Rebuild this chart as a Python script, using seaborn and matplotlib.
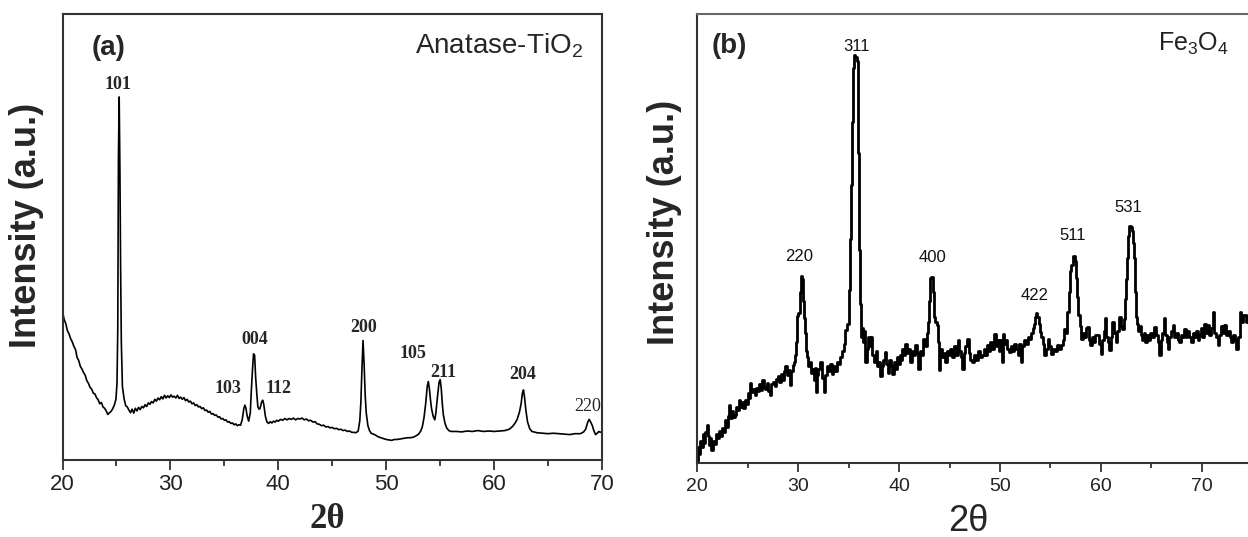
import matplotlib
matplotlib.use("Agg")
import matplotlib.pyplot as plt
from matplotlib.ticker import MultipleLocator
from matplotlib import font_manager as fm
import seaborn as sns
import pandas as pd

# ---------------- data: panel (a) Anatase-TiO2 ----------------
two_theta_a = [
    20.0, 20.15, 20.3, 20.45, 20.6, 20.75, 20.9, 21.05, 21.2, 21.35, 21.5, 21.65, 21.8, 21.95,
    22.1, 22.25, 22.4, 22.55, 22.7, 22.85, 23.0, 23.15, 23.3, 23.45, 23.6, 23.75, 23.9, 24.05,
    24.2, 24.35, 24.5, 24.65, 24.8, 24.95, 25.05, 25.12, 25.18, 25.25, 25.32, 25.38, 25.45,
    25.55, 25.7, 25.85, 26.0, 26.15, 26.3, 26.45, 26.6, 26.75, 26.9, 27.05, 27.2, 27.35, 27.5,
    27.65, 27.8, 27.95, 28.1, 28.25, 28.4, 28.55, 28.7, 28.85, 29.0, 29.15, 29.3, 29.45, 29.6,
    29.75, 29.9, 30.05, 30.2, 30.35, 30.5, 30.65, 30.8, 30.95, 31.1, 31.25, 31.4, 31.55, 31.7,
    31.85, 32.0, 32.15, 32.3, 32.45, 32.6, 32.75, 32.9, 33.05, 33.2, 33.35, 33.5, 33.65, 33.8,
    33.95, 34.1, 34.25, 34.4, 34.55, 34.7, 34.85, 35.0, 35.15, 35.3, 35.45, 35.6, 35.75, 35.9,
    36.05, 36.2, 36.35, 36.5, 36.65, 36.8, 36.9, 37.0, 37.1, 37.25, 37.4, 37.5, 37.6, 37.7,
    37.8, 37.9, 38.0, 38.1, 38.2, 38.3, 38.45, 38.55, 38.65, 38.8, 38.95, 39.1, 39.25, 39.4,
    39.55, 39.7, 39.85, 40.0, 40.2, 40.4, 40.6, 40.8, 41.0, 41.2, 41.4, 41.6, 41.8, 42.0, 42.2,
    42.4, 42.6, 42.8, 43.0, 43.2, 43.4, 43.6, 43.8, 44.0, 44.2, 44.4, 44.6, 44.8, 45.0, 45.2,
    45.4, 45.6, 45.8, 46.0, 46.2, 46.4, 46.6, 46.8, 47.0, 47.2, 47.4, 47.55, 47.65, 47.75,
    47.85, 47.95, 48.05, 48.15, 48.3, 48.45, 48.6, 48.8, 49.0, 49.25, 49.5, 49.75, 50.0,
    50.25, 50.5, 50.75, 51.0, 51.25, 51.5, 51.75, 52.0, 52.25, 52.5, 52.75, 53.0, 53.2, 53.35,
    53.5, 53.65, 53.8, 53.9, 54.0, 54.1, 54.2, 54.35, 54.5, 54.6, 54.75, 54.9, 55.0, 55.1,
    55.2, 55.3, 55.45, 55.6, 55.8, 56.0, 56.5, 57.0, 57.5, 58.0, 58.5, 59.0, 59.5, 60.0, 60.5,
    61.0, 61.4, 61.7, 61.95, 62.15, 62.35, 62.5, 62.62, 62.72, 62.82, 62.95, 63.1, 63.3, 63.5,
    64.0, 64.5, 65.0, 65.5, 66.0, 66.5, 67.0, 67.5, 68.0, 68.3, 68.5, 68.65, 68.8, 68.95, 69.1,
    69.25, 69.4, 69.55, 69.7, 69.85, 70.0,
]
intensity_a = [
    33.3, 31.5, 30.6, 29.0, 28.3, 27.2, 26.5, 25.5, 24.8, 23.0, 22.3, 21.0, 20.4, 19.6,
    19.0, 17.8, 17.2, 16.3, 15.9, 15.0, 14.8, 14.0, 13.5, 12.6, 12.9, 11.9, 11.6, 11.0,
    10.2, 10.6, 10.9, 11.5, 12.3, 13.6, 17.2, 29.5, 67.4, 81.4, 64.8, 44.0, 26.4,
    16.5, 13.8, 12.2, 11.9, 11.2, 10.6, 11.4, 10.5, 11.6, 11.0, 11.8, 11.3, 12.0, 11.7,
    12.4, 12.0, 12.8, 12.5, 13.1, 12.8, 13.6, 13.2, 13.9, 13.5, 14.2, 13.7, 14.5, 13.9,
    14.4, 14.0, 14.6, 14.1, 14.3, 13.9, 14.5, 13.8, 14.1, 13.6, 14.0, 13.3, 13.6, 13.0,
    13.2, 12.6, 12.8, 12.2, 12.4, 11.9, 12.0, 11.5, 11.7, 11.1, 11.2, 10.7, 10.9, 10.3,
    10.4, 10.0, 10.1, 9.6, 9.7, 9.2, 9.3, 8.9, 9.0, 8.5, 8.6, 8.2, 8.3, 7.9,
    8.1, 7.7, 7.9, 7.8, 9.0, 11.5, 12.3, 11.6, 10.0, 8.7, 10.5, 15.7, 20.0, 23.8,
    23.5, 18.5, 15.0, 12.0, 11.4, 11.5, 13.0, 13.4, 12.5, 9.8, 8.5, 8.2, 8.6, 8.3,
    8.7, 8.5, 8.9, 8.7, 9.1, 8.9, 9.3, 9.0, 9.3, 9.1, 9.4, 9.0, 9.3, 9.2, 9.4,
    9.0, 9.2, 8.8, 8.9, 8.5, 8.6, 8.1, 8.0, 7.7, 7.8, 7.4, 7.5, 7.2, 7.3, 7.0,
    7.1, 6.8, 6.9, 6.6, 6.7, 6.4, 6.5, 6.2, 6.2, 6.1, 6.5, 8.8, 13.0, 20.5,
    26.8, 21.5, 14.5, 10.5, 7.7, 6.6, 6.0, 5.8, 5.6, 5.2, 5.0, 4.8, 4.6,
    4.5, 4.4, 4.6, 4.6, 4.7, 4.8, 4.9, 5.0, 5.0, 5.1, 5.4, 5.8, 6.5, 7.5,
    9.5, 12.5, 16.5, 17.6, 16.0, 13.5, 11.5, 9.8, 9.0, 10.5, 14.2, 17.5, 18.0, 16.0,
    12.5, 10.0, 8.2, 7.2, 6.6, 6.4, 6.4, 6.3, 6.5, 6.4, 6.6, 6.4, 6.5, 6.4, 6.5,
    6.6, 6.9, 7.5, 8.3, 9.2, 10.8, 12.6, 15.0, 15.7, 14.0, 11.0, 8.5, 7.0, 6.4,
    6.1, 6.0, 5.9, 6.0, 5.9, 5.8, 5.7, 5.9, 5.9, 6.3, 7.0, 8.3, 9.1, 8.5, 7.7,
    6.5, 5.7, 6.0, 6.4, 6.2, 6.4,
]
peak_labels_a = ["101", "004", "103", "112", "200", "105", "211", "204", "220"]
peak_label_x_a = [25.1, 37.8, 35.3, 40.0, 47.9, 52.45, 55.3, 62.6, 68.7]
peak_label_y_a = [84.3, 27.1, 16.1, 16.1, 29.8, 23.8, 19.7, 19.1, 11.9]

# ---------------- data: panel (b) Fe3O4 ----------------
two_theta_b = [
    20.0, 20.1, 20.2, 20.35, 20.5, 20.6, 20.75, 20.9, 21.0, 21.1, 21.2, 21.35, 21.5, 21.65,
    21.8, 21.95, 22.1, 22.25, 22.4, 22.5, 22.65, 22.8, 22.95, 23.1, 23.2, 23.35, 23.5, 23.65,
    23.8, 23.95, 24.1, 24.2, 24.35, 24.5, 24.65, 24.8, 24.95, 25.1, 25.2, 25.3, 25.45, 25.6,
    25.8, 25.95, 26.1, 26.25, 26.4, 26.55, 26.7, 26.85, 27.0, 27.15, 27.3, 27.45, 27.6, 27.75,
    27.9, 28.05, 28.2, 28.35, 28.5, 28.65, 28.8, 28.95, 29.1, 29.25, 29.4, 29.55, 29.7, 29.8,
    29.9, 29.96, 30.1, 30.2, 30.3, 30.4, 30.5, 30.6, 30.7, 30.8, 30.95, 31.1, 31.2, 31.35,
    31.5, 31.6, 31.7, 31.8, 31.95, 32.1, 32.3, 32.45, 32.6, 32.75, 32.9, 33.1, 33.25, 33.4,
    33.6, 33.8, 33.95, 34.1, 34.3, 34.45, 34.6, 34.8, 34.95, 35.1, 35.2, 35.3, 35.4, 35.5,
    35.6, 35.75, 35.85, 35.95, 36.05, 36.15, 36.25, 36.4, 36.5, 36.6, 36.75, 36.9, 37.05,
    37.2, 37.3, 37.45, 37.6, 37.75, 37.9, 38.05, 38.2, 38.35, 38.5, 38.65, 38.8, 38.95, 39.1,
    39.25, 39.4, 39.55, 39.7, 39.85, 40.0, 40.1, 40.25, 40.4, 40.55, 40.7, 40.85, 41.0, 41.2,
    41.35, 41.5, 41.7, 41.85, 42.0, 42.15, 42.3, 42.5, 42.65, 42.8, 42.9, 43.0, 43.1, 43.25,
    43.4, 43.5, 43.65, 43.8, 43.9, 44.0, 44.1, 44.2, 44.35, 44.5, 44.7, 44.85, 45.0, 45.15,
    45.3, 45.5, 45.7, 45.9, 46.05, 46.2, 46.35, 46.5, 46.65, 46.85, 47.0, 47.15, 47.3, 47.5,
    47.7, 47.9, 48.1, 48.3, 48.45, 48.6, 48.8, 48.95, 49.1, 49.3, 49.5, 49.65, 49.8, 49.95,
    50.1, 50.2, 50.3, 50.45, 50.6, 50.8, 51.0, 51.15, 51.3, 51.5, 51.65, 51.85, 52.0, 52.1,
    52.3, 52.5, 52.65, 52.8, 53.0, 53.15, 53.3, 53.4, 53.5, 53.6, 53.75, 53.9, 54.0, 54.15,
    54.3, 54.5, 54.65, 54.8, 54.95, 55.1, 55.3, 55.5, 55.75, 55.9, 56.1, 56.3, 56.45, 56.6,
    56.75, 56.9, 57.0, 57.15, 57.35, 57.45, 57.6, 57.7, 57.8, 57.95, 58.1, 58.25, 58.4, 58.55,
    58.7, 58.85, 59.06, 59.2, 59.35, 59.5, 59.7, 59.85, 60.06, 60.2, 60.3, 60.45, 60.6, 60.75,
    60.9, 61.05, 61.2, 61.35, 61.55, 61.7, 61.9, 62.05, 62.2, 62.35, 62.44, 62.55, 62.64,
    62.75, 62.87, 63.0, 63.1, 63.2, 63.3, 63.4, 63.5, 63.6, 63.75, 63.9, 64.0, 64.15, 64.3,
    64.5, 64.65, 64.8, 64.95, 65.1, 65.35, 65.5, 65.7, 65.85, 66.0, 66.15, 66.3, 66.45, 66.6,
    66.7, 66.85, 67.0, 67.2, 67.35, 67.5, 67.65, 67.8, 67.95, 68.1, 68.3, 68.45, 68.6, 68.8,
    69.0, 69.15, 69.3, 69.5, 69.65, 69.8, 69.95, 70.1, 70.3, 70.45, 70.65, 70.8, 70.95, 71.15,
    71.3, 71.5, 71.65, 71.8, 71.95, 72.15, 72.3, 72.5, 72.65, 72.8, 73.0, 73.15, 73.3, 73.5,
    73.65, 73.8, 73.95, 74.1, 74.3, 74.45, 74.6, 74.8, 75.0,
]
intensity_b = [
    0.5, 3.5, 2.0, 5.0, 3.5, 6.5, 4.5, 7.0, 8.5, 6.0, 4.0, 5.5, 2.8, 5.0,
    4.2, 6.5, 5.5, 7.2, 6.0, 7.7, 7.0, 9.5, 8.0, 10.5, 12.9, 10.0, 11.5, 10.2,
    10.7, 12.5, 11.8, 14.1, 12.5, 13.5, 12.2, 14.0, 13.2, 15.5, 14.5, 17.8, 15.8, 16.5,
    15.2, 16.8, 16.0, 17.5, 16.2, 18.5, 17.0, 16.5, 17.8, 16.0, 15.2, 17.5, 18.0, 17.2,
    18.8, 19.3, 18.0, 19.8, 18.5, 20.5, 21.5, 19.5, 20.8, 17.4, 20.5, 21.8, 22.5, 24.1,
    27.0, 32.7, 33.5, 38.0, 41.7, 41.0, 36.0, 32.4, 29.0, 24.9, 23.5, 21.5, 22.6, 20.0,
    21.0, 18.5, 21.2, 15.9, 19.5, 21.0, 22.6, 19.0, 15.9, 19.5, 21.5, 20.6, 22.0, 19.8,
    21.5, 20.6, 22.5, 22.0, 23.6, 25.0, 26.5, 29.6, 31.0, 38.6, 50.0, 62.0, 76.0, 88.0,
    90.8, 90.5, 89.5, 69.0, 47.5, 35.4, 28.1, 30.0, 27.0, 29.5, 22.6, 25.5, 28.0,
    26.0, 28.1, 24.0, 22.5, 25.0, 21.5, 22.5, 19.3, 21.5, 23.0, 24.7, 22.0, 20.0, 23.0,
    21.5, 19.8, 22.5, 21.0, 23.5, 22.0, 24.0, 23.0, 25.5, 24.0, 26.5, 24.5, 25.5, 22.5,
    25.0, 24.0, 26.3, 24.5, 20.9, 25.0, 24.0, 27.6, 26.0, 29.0, 31.5, 36.0, 41.1, 41.5,
    38.0, 32.6, 31.5, 30.8, 27.0, 20.7, 24.0, 25.4, 23.5, 24.5, 22.5, 25.0, 24.0, 25.5,
    23.5, 26.0, 24.0, 27.4, 25.0, 23.5, 20.9, 24.5, 26.0, 27.6, 24.5, 23.0, 22.6, 24.0,
    23.0, 25.0, 23.5, 24.0, 25.5, 24.0, 26.3, 25.0, 27.0, 25.5, 28.8, 26.0, 27.5, 25.0,
    27.5, 22.5, 28.8, 26.5, 27.5, 25.5, 24.7, 26.0, 25.0, 26.5, 25.4, 24.0, 26.5, 22.5,
    26.0, 27.4, 26.5, 28.0, 27.6, 29.0, 30.0, 31.0, 32.5, 33.3, 32.5, 31.0, 29.2, 28.0,
    26.5, 24.0, 25.5, 27.7, 26.0, 24.3, 25.5, 25.0, 26.3, 25.5, 26.3, 27.5, 29.9, 29.0,
    33.7, 38.0, 42.7, 44.0, 46.1, 45.0, 41.1, 37.0, 33.0, 30.5, 27.7, 29.0, 28.0, 30.0,
    30.3, 27.5, 26.3, 28.0, 27.0, 28.5, 28.5, 26.5, 24.3, 27.5, 29.5, 32.2, 28.0, 27.0,
    25.2, 28.0, 31.5, 29.0, 27.0, 29.5, 32.6, 30.5, 29.9, 32.0, 36.6, 41.0, 45.7,
    50.5, 52.8, 52.5, 51.7, 49.0, 45.7, 38.0, 32.6, 31.0, 29.5, 30.5, 28.5, 27.5, 29.0,
    27.0, 28.5, 27.5, 29.0, 28.0, 30.3, 28.5, 27.0, 24.0, 27.5, 29.0, 32.2, 28.5, 27.0,
    25.4, 28.0, 29.5, 30.8, 28.0, 29.0, 27.5, 27.0, 28.5, 28.0, 29.9, 28.0, 29.5, 28.0,
    27.0, 29.0, 28.0, 29.5, 27.5, 28.5, 30.0, 28.0, 31.0, 29.0, 30.8, 28.5, 30.0, 33.7,
    29.0, 28.0, 26.3, 28.5, 30.5, 29.0, 30.8, 28.5, 29.5, 28.0, 27.0, 28.5, 27.5, 25.4,
    28.0, 33.7, 31.5, 33.0, 33.0, 31.5, 33.0, 32.0, 31.5,
]
peak_labels_b = ["220", "311", "400", "422", "511", "531"]
peak_label_x_b = [30.15, 35.8, 43.3, 53.4, 57.2, 62.7]
peak_label_y_b = [46.1, 92.7, 45.8, 37.4, 50.7, 56.9]

x_ticks_a = [20, 30, 40, 50, 60, 70]
x_ticks_b = [20, 30, 40, 50, 60, 70]

# ---------------- styling ----------------
sns.set_theme(style="ticks")
avail = {f.name for f in fm.fontManager.ttflist}
SANS = "Liberation Sans" if "Liberation Sans" in avail else "DejaVu Sans"
SERIF = "Liberation Serif" if "Liberation Serif" in avail else "DejaVu Serif"
TICKF = "Liberation Sans Narrow" if "Liberation Sans Narrow" in avail else SANS
plt.rcParams["font.family"] = [SANS, "DejaVu Sans"]
plt.rcParams["mathtext.fontset"] = "custom"
plt.rcParams["mathtext.rm"] = SANS
plt.rcParams["mathtext.it"] = SANS + ":italic"
plt.rcParams["mathtext.bf"] = SANS + ":bold"

SPINE = "#333333"

fig = plt.figure(figsize=(12.48, 5.37), dpi=100)
axa = fig.add_axes([0.0501, 0.1434, 0.4323, 0.8305])
axb = fig.add_axes([0.5585, 0.1378, 0.4451, 0.8361])

df_a = pd.DataFrame({"two_theta": two_theta_a, "intensity": intensity_a})
df_b = pd.DataFrame({"two_theta": two_theta_b, "intensity": intensity_b})

sns.lineplot(data=df_a, x="two_theta", y="intensity", ax=axa, color="black",
             linewidth=1.2, estimator=None, sort=False)
sns.lineplot(data=df_b, x="two_theta", y="intensity", ax=axb, color="black",
             linewidth=2.0, estimator=None, sort=False, drawstyle="steps-mid")

for ax, xmax, xt, fs, ml, mnl, pad in [
    (axa, 70, x_ticks_a, 16, 7.2, 4.3, 3.0),
    (axb, 75, x_ticks_b, 14, 6.5, 3.6, 4.5),
]:
    ax.set_xlim(20, xmax)
    ax.set_ylim(0, 100)
    ax.set_xticks(xt)
    ax.xaxis.set_minor_locator(MultipleLocator(5))
    ax.set_yticks([])
    ax.tick_params(axis="x", which="major", direction="out", length=ml, width=1.3,
                   color=SPINE, pad=pad, labelsize=fs, labelcolor="#222222")
    ax.tick_params(axis="x", which="minor", direction="out", length=mnl, width=1.3,
                   color=SPINE)
    for lab in ax.get_xticklabels():
        lab.set_family(TICKF)
    for s in ax.spines.values():
        s.set_color(SPINE)
        s.set_linewidth(1.5)
    ax.set_facecolor("white")

axb.spines["top"].set_color("#666666")

# axis labels
axa.set_ylabel("Intensity (a.u.)", fontsize=26, fontweight="bold", family=SANS)
axa.yaxis.set_label_coords(-0.034, 0.527)
axb.set_ylabel("Intensity (a.u.)", fontsize=26, fontweight="bold", family=SANS)
axb.yaxis.set_label_coords(-0.027, 0.535)

axa.set_xlabel("2θ", fontsize=25, fontweight="bold", family=SERIF, va="center")
axa.xaxis.set_label_coords(0.49, -0.1345)
axb.set_xlabel("2θ", fontsize=26, family=SANS, va="center")
axb.xaxis.set_label_coords(0.488, -0.131)

# panel tags and sample names
axa.text(0.086, 0.924, "(a)", transform=axa.transAxes, ha="center", va="center",
         fontsize=20, fontweight="bold", family=SANS)
axa.text(0.965, 0.928, "Anatase-TiO$_2$", transform=axa.transAxes, ha="right",
         va="center", fontsize=20, family=SANS)
axb.text(0.059, 0.929, "(b)", transform=axb.transAxes, ha="center", va="center",
         fontsize=20, fontweight="bold", family=SANS)
axb.text(0.830, 0.933, "Fe$_3$O$_4$", transform=axb.transAxes, ha="left",
         va="center", fontsize=18, family=SANS, color="#222222")

# peak (hkl) labels
for lab, lx, ly in zip(peak_labels_a, peak_label_x_a, peak_label_y_a):
    weight = "normal" if lab == "220" else "bold"
    axa.text(lx, ly, lab, ha="center", va="center", fontsize=13,
             fontweight=weight, family=SERIF)
for lab, lx, ly in zip(peak_labels_b, peak_label_x_b, peak_label_y_b):
    axb.text(lx, ly, lab, ha="center", va="center", fontsize=12, family=SANS,
             color="#111111")

fig.savefig("out.png", dpi=100, facecolor="white")
